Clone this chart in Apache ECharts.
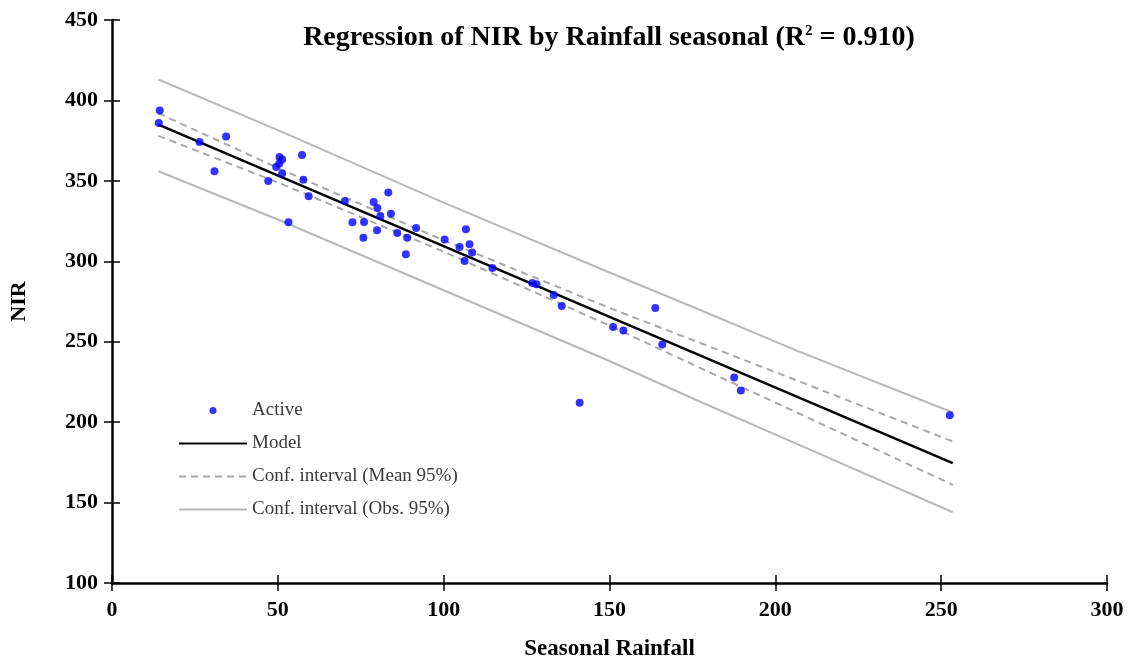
<!DOCTYPE html>
<html>
<head>
<meta charset="utf-8">
<script src="https://cdn.jsdelivr.net/npm/echarts@6/dist/echarts.min.js"></script>
<style>
  html, body { margin: 0; padding: 0; background: #ffffff; }
  #chart { width: 1133px; height: 669px; }
</style>
</head>
<body>
<div id="chart"></div>
<script>
// Observed points: seasonal rainfall (x) vs NIR (y)
const rainfall = [14.4, 14.1, 26.4, 34.4, 30.9, 50.5, 51.3, 50.4, 49.5, 51.3, 57.3, 47.1, 57.7, 59.3, 53.2,
  70.2, 72.5, 76.0, 75.8, 78.9, 80.0, 80.9, 79.9, 83.3, 84.1, 86.0, 89.0, 88.6, 91.7,
  100.3, 104.8, 106.7, 107.8, 108.6, 106.3, 114.7, 126.7, 128.0, 133.2, 135.6, 141.0,
  151.1, 154.2, 163.8, 165.9, 187.6, 189.6, 252.6];
const nir = [393.8, 385.9, 374.1, 377.6, 355.9, 364.8, 363.2, 360.7, 358.6, 354.5, 366.0, 349.9, 350.7, 340.4, 324.2,
  337.5, 324.2, 324.5, 314.7, 336.8, 333.1, 328.0, 319.3, 342.7, 329.6, 317.6, 314.7, 304.3, 320.7,
  313.5, 308.9, 319.9, 310.6, 305.4, 300.2, 295.8, 286.5, 285.7, 279.1, 272.2, 212.0,
  259.2, 257.0, 271.0, 248.3, 227.8, 219.7, 204.3];

// Fitted model line (end points)
const modelX = [14.0, 253.5];
const modelY = [385.0, 174.5];

// Confidence bands, sampled along the rainfall range
const bandX = [14, 50, 100, 150, 177, 207, 253.5];
const meanUpper = [392.0, 358.0, 313.0, 271.0, 249.5, 225.5, 188.0];
const meanLower = [378.0, 349.0, 306.0, 260.0, 234.0, 205.5, 161.0];
const obsUpper = [413.0, 381.5, 336.5, 293.0, 270.0, 244.0, 206.0];
const obsLower = [356.0, 326.0, 282.0, 238.0, 213.0, 186.0, 144.0];

// Axis ranges and ticks
const xTicks = { min: 0, max: 300, interval: 50 };
const yTicks = { min: 100, max: 450, interval: 50 };

const pairs = (xs, ys) => xs.map((x, i) => [x, ys[i]]);

const serif = '"Liberation Serif", "DejaVu Serif", serif';
const tickStyle = { color: '#000', width: 1.5 };
const axisBase = {
  type: 'value',
  splitLine: { show: false },
  axisLine: { show: true, onZero: false, lineStyle: { color: '#000', width: 2.5 } },
  axisTick: { show: true, length: 8, lineStyle: tickStyle },
  axisLabel: { color: '#000', fontFamily: serif, fontWeight: 'bold', fontSize: 22 }
};
// second copy of each axis draws the inner half of the crossing ticks
const innerTicks = {
  type: 'value',
  splitLine: { show: false },
  axisLine: { show: false },
  axisTick: { show: true, inside: true, length: 8, lineStyle: tickStyle },
  axisLabel: { show: false }
};

const chart = echarts.init(document.getElementById('chart'), null, { renderer: 'canvas' });

chart.setOption({
  backgroundColor: '#ffffff',
  animation: false,
  title: {
    text: '{t|Regression of NIR by Rainfall seasonal (R}{s|2}{t| = 0.910)}',
    left: 604,
    textAlign: 'center',
    top: 19,
    textStyle: {
      rich: {
        t: { fontFamily: serif, fontWeight: 'bold', fontSize: 28, color: '#000' },
        s: { fontFamily: serif, fontWeight: 'bold', fontSize: 15, color: '#000', verticalAlign: 'top', padding: [0, 0, 12, 0] }
      }
    }
  },
  grid: { left: 112, right: 26, top: 20, bottom: 86, containLabel: false },
  legend: {
    orient: 'vertical',
    left: 173,
    top: 396,
    itemWidth: 68,
    itemHeight: 7,
    itemGap: 14,
    textStyle: { fontFamily: serif, fontSize: 19, color: '#3a3a3a' },
    data: [
      { name: 'Active' },
      { name: 'Model', itemStyle: { opacity: 0 } },
      { name: 'Conf. interval (Mean 95%)', itemStyle: { opacity: 0 } },
      { name: 'Conf. interval (Obs. 95%)', itemStyle: { opacity: 0 } }
    ]
  },
  xAxis: [
    Object.assign({}, axisBase, {
      min: xTicks.min, max: xTicks.max, interval: xTicks.interval,
      name: 'Seasonal Rainfall', nameLocation: 'middle', nameGap: 55,
      nameTextStyle: { fontFamily: serif, fontWeight: 'bold', fontSize: 23, color: '#000' },
      axisLabel: Object.assign({}, axisBase.axisLabel, { margin: 16 })
    }),
    Object.assign({}, innerTicks, {
      position: 'bottom',
      min: xTicks.min, max: xTicks.max, interval: xTicks.interval
    })
  ],
  yAxis: [
    Object.assign({}, axisBase, {
      min: yTicks.min, max: yTicks.max, interval: yTicks.interval,
      name: 'NIR', nameLocation: 'middle', nameGap: 82,
      nameTextStyle: { fontFamily: serif, fontWeight: 'bold', fontSize: 22, color: '#000' },
      axisLabel: Object.assign({}, axisBase.axisLabel, { margin: 14 })
    }),
    Object.assign({}, innerTicks, {
      position: 'left',
      min: yTicks.min, max: yTicks.max, interval: yTicks.interval
    })
  ],
  series: [
    {
      name: 'Conf. interval (Obs. 95%)', type: 'line', symbol: 'none', z: 2,
      data: pairs(bandX, obsUpper),
      lineStyle: { color: '#b8b8b8', width: 2 }
    },
    {
      name: 'Conf. interval (Obs. 95%)', type: 'line', symbol: 'none', z: 2,
      data: pairs(bandX, obsLower),
      lineStyle: { color: '#b8b8b8', width: 2 }
    },
    {
      name: 'Conf. interval (Mean 95%)', type: 'line', symbol: 'none', z: 3,
      data: pairs(bandX, meanUpper),
      lineStyle: { color: '#a8a8a8', width: 2, type: [7, 5] }
    },
    {
      name: 'Conf. interval (Mean 95%)', type: 'line', symbol: 'none', z: 3,
      data: pairs(bandX, meanLower),
      lineStyle: { color: '#a8a8a8', width: 2, type: [7, 5] }
    },
    {
      name: 'Model', type: 'line', symbol: 'none', z: 4,
      data: pairs(modelX, modelY),
      lineStyle: { color: '#000', width: 2.5 }
    },
    {
      name: 'Active', type: 'scatter', symbol: 'circle', symbolSize: 8, z: 5,
      data: pairs(rainfall, nir),
      itemStyle: { color: '#0000ff' }
    }
  ]
});
</script>
</body>
</html>
